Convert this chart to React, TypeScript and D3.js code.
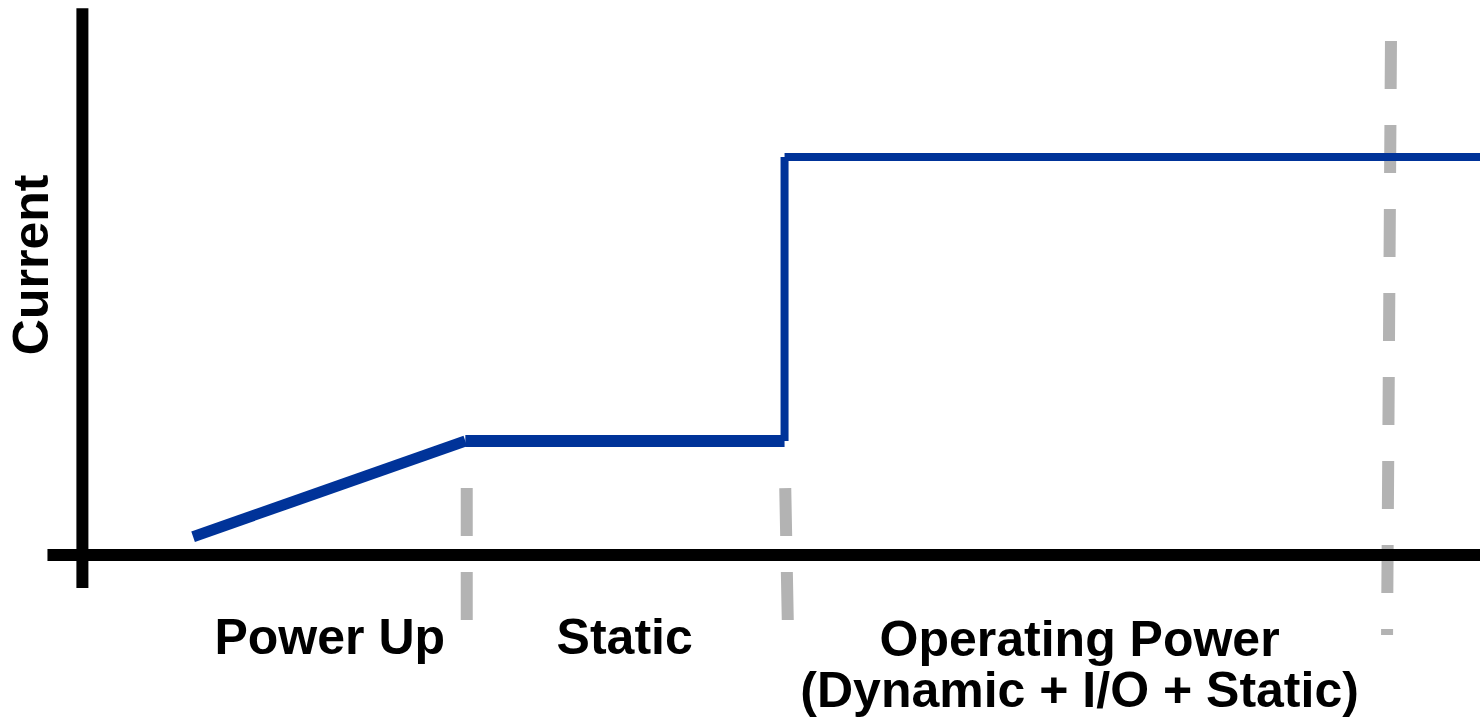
import React from "react";
import * as d3 from "d3";

// ---- data (time in arbitrary units 0..100, current in arbitrary units 0..100)
const currentTime = [7.92, 27.4, 50.24, 50.24, 100];
const currentValue = [4.6, 28.64, 28.64, 100, 100];

// phase boundaries (dashed gray separators): top/bottom time and value
const boundaryTimeTop = [27.5, 50.29, 93.63];
const boundaryTimeBottom = [27.5, 50.47, 93.35];
const boundaryValueTop = [16.83, 16.83, 129.15];
const boundaryValueBottom = [-16.33, -16.33, -20.1];

const phaseLabels = ["Power Up", "Static", "Operating Power"];
const phaseSubLabels = ["", "", "(Dynamic + I/O + Static)"];
const phaseLabelTime = [17.7, 38.8, 71.35];

const yAxisTitle = "Current";

const W = 1480;
const H = 718;

export default function App() {
  const x = d3.scaleLinear().domain([0, 100]).range([82.4, 1480]);
  const y = d3.scaleLinear().domain([0, 100]).range([555, 157]);

  const BLUE = "#003399";
  const GRAY = "#b3b3b3";
  const segWidths = [11, 12, 8, 8];

  const segments = currentTime.slice(0, -1).map((t, i) => ({
    x1: x(t),
    y1: y(currentValue[i]),
    x2: x(currentTime[i + 1]),
    y2: y(currentValue[i + 1]),
    w: segWidths[i],
  }));

  const line = d3.line<[number, number]>();

  const font = "'Liberation Sans', Arial, Helvetica, sans-serif";

  return (
    <svg
      width={W}
      height={H}
      viewBox={`0 0 ${W} ${H}`}
      style={{ position: "absolute", left: 0, top: 0, display: "block", background: "#fff" }}
    >
      <rect x={0} y={0} width={W} height={H} fill="#fff" />
      {/* dashed separators */}
      {boundaryTimeTop.map((t, i) => (
        <path
          key={"b" + i}
          d={
            line([
              [x(t), y(boundaryValueTop[i])],
              [x(boundaryTimeBottom[i]), y(boundaryValueBottom[i])],
            ]) as string
          }
          stroke={GRAY}
          strokeWidth={12}
          strokeDasharray="48 36"
          fill="none"
        />
      ))}
      {/* axes */}
      <path
        d={line([[x(-2.5), y(0)], [x(100), y(0)]]) as string}
        stroke="#000"
        strokeWidth={12}
        fill="none"
      />
      <path
        d={line([[x(0), y(-8.3)], [x(0), y(137.4)]]) as string}
        stroke="#000"
        strokeWidth={12}
        fill="none"
      />
      {/* current trace */}
      {segments.map((s, i) => (
        <path
          key={"s" + i}
          d={line([[s.x1, s.y1], [s.x2, s.y2]]) as string}
          stroke={BLUE}
          strokeWidth={s.w}
          strokeLinecap="butt"
          fill="none"
        />
      ))}
      {/* y title */}
      <text
        transform={`translate(48, ${y(72.9)}) rotate(-90)`}
        textAnchor="middle"
        fontFamily={font}
        fontWeight="bold"
        fontSize={50}
        fill="#000"
      >
        {yAxisTitle}
      </text>
      {/* phase labels */}
      {phaseLabels.map((lab, i) => (
        <text
          key={"l" + i}
          x={x(phaseLabelTime[i])}
          y={i === 2 ? 656 : 654}
          textAnchor="middle"
          fontFamily={font}
          fontWeight="bold"
          fontSize={50}
          fill="#000"
        >
          {lab}
        </text>
      ))}
      {phaseSubLabels.map((lab, i) =>
        lab ? (
          <text
            key={"sl" + i}
            x={x(phaseLabelTime[i])}
            y={707}
            textAnchor="middle"
            fontFamily={font}
            fontWeight="bold"
            fontSize={50}
            fill="#000"
          >
            {lab}
          </text>
        ) : null
      )}
    </svg>
  );
}
